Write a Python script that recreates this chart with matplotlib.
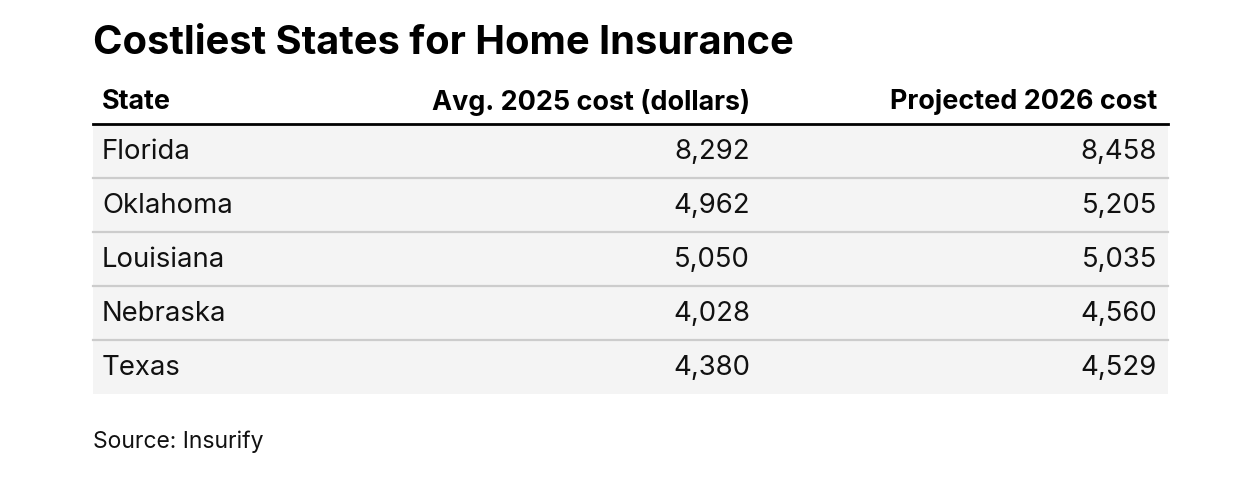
import matplotlib
matplotlib.use("Agg")
import matplotlib.pyplot as plt
from matplotlib.patches import Rectangle

title = "Costliest States for Home Insurance"
headers = ["State", "Avg. 2025 cost (dollars)", "Projected 2026 cost"]
states = ["Florida", "Oklahoma", "Louisiana", "Nebraska", "Texas"]
cost_2025 = [8292, 4962, 5050, 4028, 4380]
cost_2026 = [8458, 5205, 5035, 4560, 4529]
source = "Source: Insurify"

plt.rcParams['font.family'] = ['Inter', 'DejaVu Sans']
fig = plt.figure(figsize=(12.38, 4.82), dpi=100)
ax = fig.add_axes([0, 0, 1, 1])
ax.set_xlim(0, 1238); ax.set_ylim(482, 0); ax.axis('off')

x0, x1 = 93, 1168
ax.text(x0, 43, title, fontsize=28.7, fontweight='bold', va='center', ha='left', color='#000')
hs = 19.4
ax.text(102, 102, headers[0], fontsize=hs, fontweight='bold', va='center', ha='left')
ax.text(750, 102, headers[1], fontsize=hs, fontweight='bold', va='center', ha='right')
ax.text(1157, 102, headers[2], fontsize=hs, fontweight='bold', va='center', ha='right')

top, rh = 124, 54
for i, (s, a, b) in enumerate(zip(states, cost_2025, cost_2026)):
    y = top + i * rh
    ax.add_patch(Rectangle((x0, y), x1 - x0, rh, facecolor='#f4f4f4', edgecolor='none'))
    if i > 0:
        ax.plot([x0, x1], [y, y], color='#cccccc', lw=1.6)
    yc = y + rh / 2 + 1
    ax.text(102, yc, s, fontsize=19.8, va='center', ha='left', color='#111')
    ax.text(750, yc, f"{a:,}", fontsize=19.8, va='center', ha='right', color='#111')
    ax.text(1157, yc, f"{b:,}", fontsize=19.8, va='center', ha='right', color='#111')
ax.plot([x0, x1], [top, top], color='#000', lw=2)
ax.text(x0, 442, source, fontsize=16.5, va='center', ha='left', color='#111')
fig.savefig("out.png", dpi=100)
